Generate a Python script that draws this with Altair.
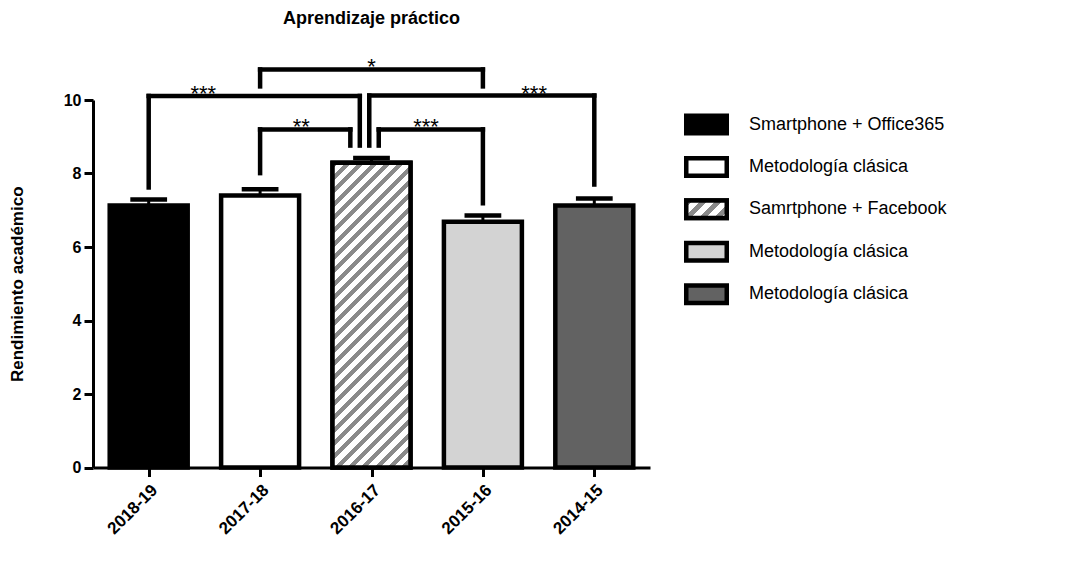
import json
import altair as alt
import pandas as pd

# ---------------- data ----------------
categories = ["2018-19", "2017-18", "2016-17", "2015-16", "2014-15"]
means = [7.13, 7.40, 8.29, 6.69, 7.13]
sems = [0.16, 0.17, 0.13, 0.17, 0.19]
legend_labels = [
    "Smartphone + Office365",
    "Metodología clásica",
    "Samrtphone + Facebook",
    "Metodología clásica",
    "Metodología clásica",
]
bar_colors = ["#000000", "#ffffff", "#ffffff", "#d3d3d3", "#626262"]

# significance brackets
brk_from = ["2018-19", "2017-18", "2016-17", "2017-18", "2016-17"]
brk_to = ["2016-17", "2015-16", "2014-15", "2016-17", "2015-16"]
brk_label = ["***", "*", "***", "**", "***"]
brk_height = [10.11, 10.83, 10.12, 9.20, 9.20]
brk_end_from = [7.62, 10.37, 8.76, 8.01, 8.76]
brk_end_to = [8.76, 10.37, 7.70, 8.76, 7.19]
# label placement along the category axis (category index units)
brk_label_at = [0.49, 2.0, 3.46, 1.37, 2.49]

# ---------------- style ----------------
FONT = "Liberation Sans"
W, H = 557, 367.5
STEP = W / len(categories)
BAR_FRAC = 0.70
CAP_HALF = 0.165
STROKE = 4.5
# leg offsets at the shared 2016-17 bar (style)
off_from = [0.0, 0.0, -0.02, 0.0, 0.065]
off_to = [-0.105, 0.0, 0.0, -0.19, 0.0]


def hatch_gradient(w, h, period, gray_frac, gray="#8a8a8a", phase=0.0):
    L = w + h
    k = L / (w * w + h * h)
    stops = []
    n = int(L / period) + 3
    for j in range(-1, n):
        s = phase + j * period
        e = s + gray_frac * period
        if e <= 0 or s >= L:
            continue
        for off, col in ((s, "#ffffff"), (s, gray), (e, gray), (e, "#ffffff")):
            o = min(max(off / L, 0.0), 1.0)
            stops.append(alt.GradientStop(offset=o, color=col))
    return alt.LinearGradient(
        gradient="linear", stops=stops, x1=0, y1=0, x2=k * w, y2=k * h
    )


idx = {c: i for i, c in enumerate(categories)}
bdf = pd.DataFrame(
    {
        "cat": categories,
        "i": list(range(len(categories))),
        "mean": means,
        "sem": sems,
    }
)
bdf["x0"] = bdf["i"] - BAR_FRAC / 2
bdf["x1"] = bdf["i"] + BAR_FRAC / 2
bdf["top"] = bdf["mean"] + bdf["sem"]
bdf["base"] = 0.0
bdf["c0"] = bdf["i"] - CAP_HALF
bdf["c1"] = bdf["i"] + CAP_HALF
hdf = bdf[bdf["cat"] == "2016-17"]

kdf = pd.DataFrame(
    {
        "xa": [idx[a] + o for a, o in zip(brk_from, off_from)],
        "xb": [idx[b] + o for b, o in zip(brk_to, off_to)],
        "h": brk_height,
        "ea": brk_end_from,
        "eb": brk_end_to,
        "label": brk_label,
        "lx": brk_label_at,
    }
)

xs = alt.Scale(domain=[-0.5, len(categories) - 0.5], nice=False, zero=False)
ys = alt.Scale(domain=[0, 10], nice=False)
label_expr = json.dumps(categories) + "[datum.value]"
xaxis = alt.Axis(
    title=None, values=list(range(len(categories))), labelExpr=label_expr,
    labelAngle=-45, grid=False, domainWidth=3, domainColor="black",
    tickWidth=3, tickSize=9, tickColor="black", labelFont=FONT,
    labelFontSize=17, labelFontWeight="bold", labelColor="black",
    labelPadding=5,
)
yaxis = alt.Axis(
    title="Rendimiento académico", values=[0, 2, 4, 6, 8, 10], format="d",
    grid=False, domainWidth=3, domainColor="black", tickWidth=3, tickSize=9,
    tickColor="black", labelFont=FONT, labelFontSize=16,
    labelFontWeight="bold", labelColor="black", labelPadding=3,
    titleFont=FONT, titleFontSize=17, titleFontWeight="bold",
    titleColor="black", titlePadding=37,
)


def X(f):
    return alt.X(f"{f}:Q", scale=xs, axis=xaxis)


def Y(f):
    return alt.Y(f"{f}:Q", scale=ys, axis=yaxis)


fill_scale = alt.Scale(domain=categories, range=bar_colors)

bars = alt.Chart(bdf).mark_rect(
    stroke="black", strokeWidth=STROKE, strokeJoin="miter"
).encode(
    x=X("x0"), x2="x1", y=Y("mean"), y2="base",
    fill=alt.Fill("cat:N", scale=fill_scale, legend=None),
)
bar_w_px = BAR_FRAC * STEP
bar_h_px = means[idx["2016-17"]] * H / 10
hatch = alt.Chart(hdf).mark_rect(
    fill=hatch_gradient(bar_w_px, bar_h_px, 13.3, 0.45),
    stroke="black", strokeWidth=STROKE, strokeJoin="miter",
).encode(x=X("x0"), x2="x1", y=Y("mean"), y2="base")
err = alt.Chart(bdf).mark_rule(color="black", strokeWidth=3).encode(
    x=X("i"), y=Y("mean"), y2="top"
)
cap = alt.Chart(bdf).mark_rule(color="black", strokeWidth=STROKE).encode(
    x=X("c0"), x2="c1", y=Y("top")
)
rule_kw = dict(color="black", strokeWidth=STROKE, strokeCap="square")
brk_h = alt.Chart(kdf).mark_rule(**rule_kw).encode(x=X("xa"), x2="xb", y=Y("h"))
brk_a = alt.Chart(kdf).mark_rule(**rule_kw).encode(x=X("xa"), y=Y("h"), y2="ea")
brk_b = alt.Chart(kdf).mark_rule(**rule_kw).encode(x=X("xb"), y=Y("h"), y2="eb")
stars = alt.Chart(kdf).mark_text(
    font=FONT, fontSize=22, baseline="alphabetic", align="center", dy=5,
    color="black",
).encode(x=X("lx"), y=Y("h"), text="label:N")

main = alt.layer(bars, hatch, err, cap, brk_h, brk_a, brk_b, stars)

# ---------------- legend ----------------
ldf = pd.DataFrame(
    {"li": list(range(len(legend_labels))), "cat": categories, "label": legend_labels}
)
lscale = alt.Scale(type="band", range=[15.75, 202.9], paddingInner=0.587, paddingOuter=0)
LX0, LX1, LTX = 593.25, 633.75, 656
leg_rect = alt.Chart(ldf).mark_rect(
    stroke="black", strokeWidth=STROKE, strokeJoin="miter"
).encode(
    x=alt.value(LX0), x2=alt.value(LX1),
    y=alt.Y("li:O", scale=lscale, axis=None),
    fill=alt.Fill("cat:N", scale=fill_scale, legend=None),
)
leg_hatch = alt.Chart(ldf[ldf["cat"] == "2016-17"]).mark_rect(
    fill=hatch_gradient(LX1 - LX0, 17.5, 15, 0.45),
    stroke="black", strokeWidth=STROKE, strokeJoin="miter",
).encode(
    x=alt.value(LX0), x2=alt.value(LX1),
    y=alt.Y("li:O", scale=lscale, axis=None),
)
leg_text = alt.Chart(ldf).mark_text(
    font=FONT, fontSize=18, align="left", baseline="middle", color="black"
).encode(
    x=alt.value(LTX),
    y=alt.Y("li:O", scale=lscale, axis=None, bandPosition=0.5),
    text="label:N",
)
legend = alt.layer(leg_rect, leg_hatch, leg_text)

chart = (
    alt.layer(main, legend)
    .resolve_scale(y="independent")
    .properties(
        width=W,
        height=H,
        title=alt.TitleParams(
            "Aprendizaje práctico", font=FONT, fontSize=18, fontWeight="bold",
            anchor="middle", frame="group", offset=28, color="black",
        ),
        autosize=alt.AutoSizeParams(type="none"),
        padding={"left": 85, "top": 92, "right": 426, "bottom": 95},
    )
    .configure(font=FONT)
    .configure_view(stroke=None)
)

chart.save("out.html", embed_options={"renderer": "svg", "actions": False})
